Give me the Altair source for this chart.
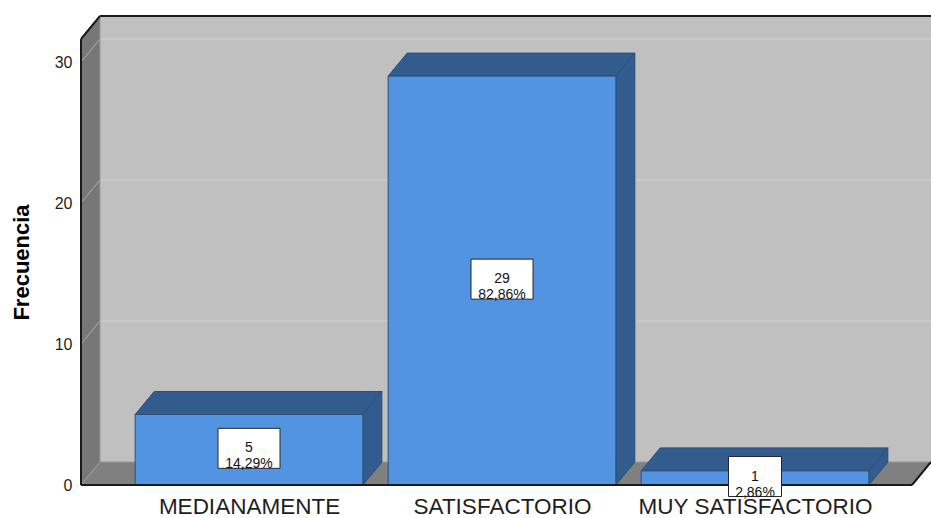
import json
import altair as alt
import pandas as pd

# ---------------- data ----------------
categories = ["MEDIANAMENTE", "SATISFACTORIO", "MUY SATISFACTORIO"]
counts = [5, 29, 1]
y_ticks = [0, 10, 20, 30]

total = sum(counts)
pct_labels = [f"{c / total * 100:.2f}%".replace(".", ",") for c in counts]

# ---------------- geometry / style constants ----------------
W, H = 850, 469               # plot area in px
PX_PER_CAT = 253.0            # px between category centres
PX_PER_UNIT = 14.1            # px per frequency unit
XMIN = -168.0 / PX_PER_CAT
XMAX = XMIN + W / PX_PER_CAT
YMAX = H / PX_PER_UNIT
DX = 19.0 / PX_PER_CAT        # 3-D depth offset (x)
DY = 23.0 / PX_PER_UNIT       # 3-D depth offset (y)
YFRONT = YMAX - DY
HALF = 0.45                   # half bar width (category units)

FRONT = "#5294E2"
DARK = "#335C8E"
EDGE = "#2E4E78"
FONT = "Liberation Sans"

xscale = alt.Scale(domain=[XMIN, XMAX], nice=False, zero=False)
yscale = alt.Scale(domain=[0, YMAX], nice=False, zero=False)

label_expr = "%s[datum.value]" % json.dumps(categories)

xaxis = alt.Axis(
    values=list(range(len(categories))),
    labelExpr=label_expr,
    title=None,
    ticks=False,
    domain=False,
    grid=False,
    labelFont=FONT,
    labelFontSize=22.5,
    labelColor="#1E1E1E",
    labelPadding=10,
    labelOverlap=False,
    labelFlush=False,
    labelLimit=1000,
)
yaxis = alt.Axis(
    values=y_ticks,
    ticks=False,
    domain=False,
    grid=False,
    labelFont=FONT,
    labelFontSize=16,
    labelColor="#1E1E1E",
    labelPadding=9,
    title="Frecuencia",
    titleFont=FONT,
    titleFontSize=22,
    titleFontWeight="bold",
    titleColor="#000000",
    titleAngle=270,
    titleX=-60,
    titleY=246,
    titleAlign="center",
    titleBaseline="middle",
)


def X(field):
    return alt.X(field, scale=xscale, axis=xaxis)


def Y(field, **kw):
    return alt.Y(field, scale=yscale, axis=yaxis, **kw)


# ---------------- walls ----------------
walls = pd.DataFrame(
    [
        ("back", "#C0C0C0", XMIN + DX, DY, YMAX),
        ("back", "#C0C0C0", XMAX, DY, YMAX),
        ("left", "#777777", XMIN, 0, YFRONT),
        ("left", "#777777", XMIN + DX, DY, YMAX),
        ("floor", "#808080", XMIN, 0, 0),
        ("floor", "#808080", XMIN + DX, 0, DY),
        ("floor", "#808080", XMAX - DX, 0, DY),
        ("floor", "#808080", XMAX, DY, DY),
    ],
    columns=["face", "fill", "x", "y", "y2"],
)

wall_layer = alt.Chart(walls).mark_area(orient="vertical", interpolate="linear").encode(
    x=X("x:Q"),
    y=Y("y:Q", stack=False),
    y2="y2:Q",
    fill=alt.Fill("fill:N", scale=None),
    detail="face:N",
)

# ---------------- grid lines ----------------
grid_rows = []
for t in y_ticks[1:]:
    grid_rows.append((XMIN + DX, t + DY, XMAX, t + DY, "#D2D2D2"))
    grid_rows.append((XMIN, t, XMIN + DX, t + DY, "#ABABAB"))
grid_rows.append((XMIN + DX, DY, XMIN + DX, YMAX, "#9A9A9A"))
grid_rows.append((XMIN + DX, DY, XMAX, DY, "#9A9A9A"))
grid_rows.append((XMIN, 0, XMIN + DX, DY, "#9A9A9A"))
grid = pd.DataFrame(grid_rows, columns=["x", "y", "x2", "y2", "c"])

grid_layer = alt.Chart(grid).mark_rule(strokeWidth=1).encode(
    x=X("x:Q"),
    y=Y("y:Q"),
    x2="x2:Q",
    y2="y2:Q",
    stroke=alt.Stroke("c:N", scale=None),
)

# ---------------- bars ----------------
faces = []
fronts = []
for i, v in enumerate(counts):
    x0, x1 = i - HALF, i + HALF
    faces += [
        (f"top{i}", x0, v, v),
        (f"top{i}", x0 + DX, v, v + DY),
        (f"top{i}", x1, v, v + DY),
        (f"top{i}", x1 + DX, v + DY, v + DY),
        (f"side{i}", x1, 0, v),
        (f"side{i}", x1 + DX, DY, v + DY),
    ]
    fronts.append((x0, x1, 0, v))
faces = pd.DataFrame(faces, columns=["face", "x", "y", "y2"])
fronts = pd.DataFrame(fronts, columns=["x", "x2", "y", "y2"])

face_layer = alt.Chart(faces).mark_area(
    orient="vertical", interpolate="linear", color=DARK, stroke=EDGE, strokeWidth=1
).encode(
    x=X("x:Q"),
    y=Y("y:Q", stack=False),
    y2="y2:Q",
    detail="face:N",
)

front_layer = alt.Chart(fronts).mark_rect(
    color=FRONT, stroke=EDGE, strokeWidth=1
).encode(
    x=X("x:Q"),
    x2="x2:Q",
    y=Y("y:Q"),
    y2="y2:Q",
)

# ---------------- outer edges ----------------
edges = pd.DataFrame(
    [
        (XMIN, 0, XMIN, YFRONT),
        (XMIN, YFRONT, XMIN + DX, YMAX),
        (XMIN + DX, YMAX, XMAX, YMAX),
        (XMIN, 0, XMAX - DX, 0),
        (XMAX - DX, 0, XMAX, DY),
    ],
    columns=["x", "y", "x2", "y2"],
)
edge_layer = alt.Chart(edges).mark_rule(color="#1A1A1A", strokeWidth=2).encode(
    x=X("x:Q"),
    y=Y("y:Q"),
    x2="x2:Q",
    y2="y2:Q",
)

# ---------------- value label boxes ----------------
BOX_H = 40.0 / PX_PER_UNIT
boxes = []
for i, (v, p) in enumerate(zip(counts, pct_labels)):
    w_px = 9 * max(len(str(v)), len(p)) + 8
    hw = w_px / 2.0 / PX_PER_CAT
    cy = v / 2.0 + 0.1
    boxes.append((i - hw, i + hw, cy - BOX_H / 2, cy + BOX_H / 2, i, cy, f"{v}\n{p}"))
boxes = pd.DataFrame(boxes, columns=["x", "x2", "y", "y2", "cx", "cy", "label"])

box_layer = alt.Chart(boxes).mark_rect(
    color="#FFFFFF", stroke="#262626", strokeWidth=1
).encode(
    x=X("x:Q"),
    x2="x2:Q",
    y=Y("y:Q"),
    y2="y2:Q",
)

text_layer = alt.Chart(boxes).mark_text(
    font=FONT, fontSize=14, lineHeight=16, lineBreak="\n",
    align="center", baseline="middle", color="#111111"
).encode(
    x=X("cx:Q"),
    y=Y("cy:Q"),
    text="label:N",
)

chart = alt.layer(
    wall_layer, grid_layer, face_layer, front_layer, edge_layer, box_layer, text_layer
).properties(
    width=W,
    height=H,
    padding={"left": 81, "top": 16, "right": 0, "bottom": 33},
    autosize=alt.AutoSizeParams(type="none"),
    background="#FFFFFF",
).configure_view(strokeWidth=0)

chart.save("out.html", embed_options={"renderer": "svg", "actions": False})
